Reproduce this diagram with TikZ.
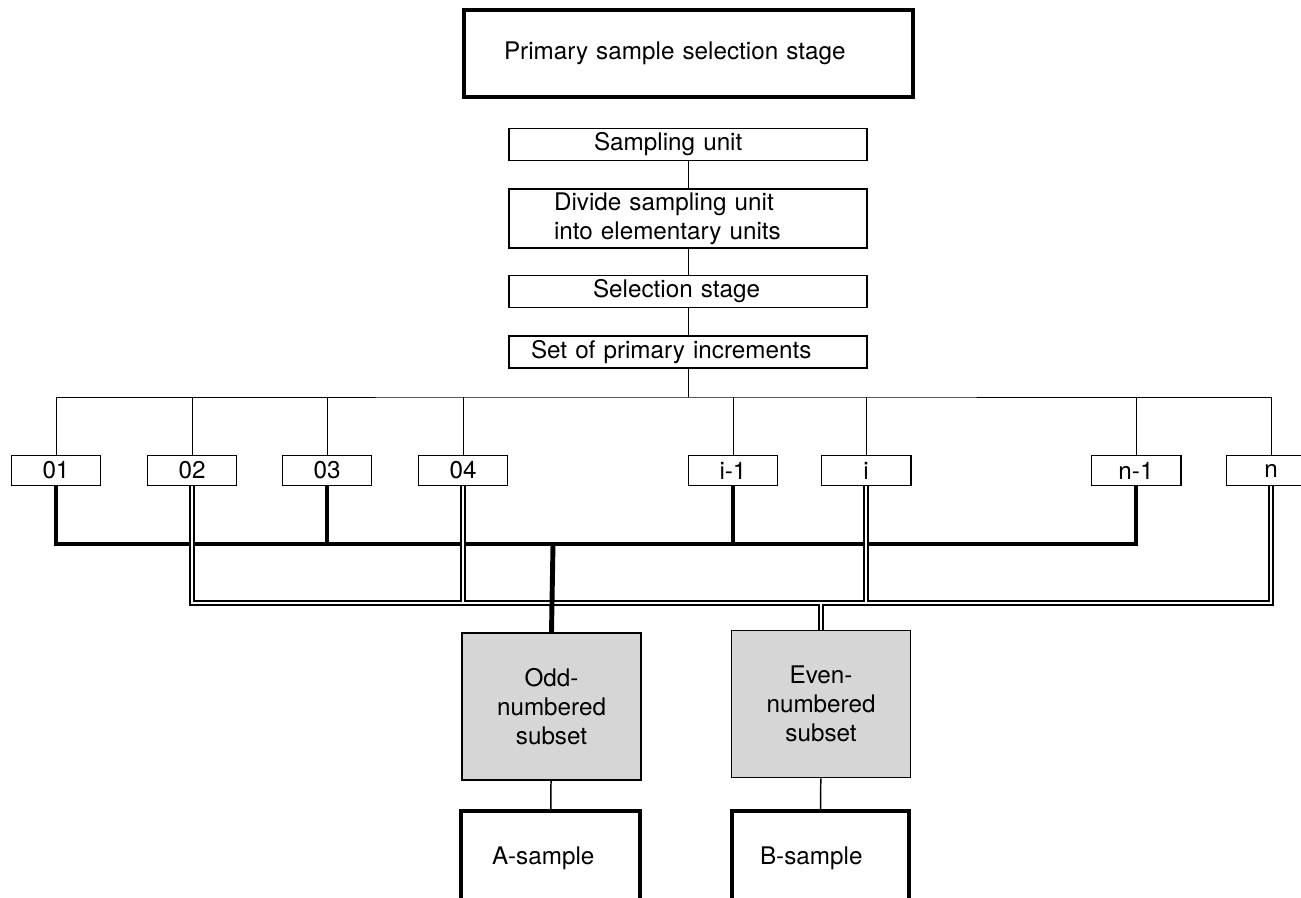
\documentclass[tikz,border=0pt]{standalone}
\usepackage{fontspec}
\setmainfont{TeX Gyre Heros}
\usetikzlibrary{backgrounds}

\begin{document}
\begin{tikzpicture}[x=0.02cm, y=-0.02cm, line width=0.85pt, txt/.style = {font=\fontsize{13.8}{16.6}\selectfont}, stagebox/.style = {shape=rectangle, draw, txt, align=left, inner ysep=0pt, minimum width=7.16cm, minimum height=0.64cm}, heavybox/.style = {shape=rectangle, draw, txt, align=left, line width=2.5pt, inner sep=0pt}, incbox/.style = {shape=rectangle, draw, txt, inner sep=0pt, minimum width=1.79cm, minimum height=0.6cm}, subsetbox/.style = {shape=rectangle, draw, txt, align=center, fill=black!16, inner sep=0pt, minimum width=3.59cm, minimum height=2.95cm}, oddline/.style = {line width=2.8pt}, evenline/.style = {line width=3.4pt}, evengap/.style = {line width=1.6pt, white}]
	\useasboundingbox (0,0) rectangle (1301,898);
	\clip (0,0) rectangle (1301,898);
	\node[heavybox, minimum width=8.98cm, minimum height=1.74cm, text width=7.38cm, inner xsep=0.8cm] (primary) at (688.5,53.5) {Primary sample selection stage};
	\node[stagebox, inner xsep=1.7cm, text width=3.76cm] (sunit) at (688,144.5) {Sampling unit};
	\node[stagebox, inner xsep=0.9cm, text width=5.36cm, minimum height=1.19cm] (divide) at (688,218.5) {Divide sampling unit\\into elementary units};
	\node[stagebox, inner xsep=1.68cm, text width=3.8cm] (selstage) at (688,291.5) {Selection stage};
	\node[stagebox, inner xsep=0.44cm, text width=6.28cm] (incset) at (688,352) {Set of primary increments};
	\foreach \name/\x/\lbl in {i01/56/01, i02/192/02, i03/327/03, i04/463/04, iprev/733/i-1, icur/866/i, nprev/1136/n-1, ncur/1271/n}
		\node[incbox] (\name) at (\x,470.5) {\lbl};
	\node[subsetbox] (odd) at (551.5,706.5) {Odd-\\numbered\\subset};
	\node[subsetbox] (even) at (821,704) {Even-\\numbered\\subset};
	\node[heavybox, minimum width=3.58cm, minimum height=1.88cm, inner xsep=0.62cm, text width=2.34cm] (asample) at (550.5,858) {A-sample};
	\node[heavybox, minimum width=3.54cm, minimum height=1.88cm, inner xsep=0.56cm, text width=2.42cm] (bsample) at (820.5,858) {B-sample};
	\coordinate (bus) at (688,397);
	\coordinate (oddhub) at (553,544);
	\coordinate (evenhub) at (821,603);
	\begin{scope}[on background layer]
		\draw (sunit) -- (divide) -- (selstage) -- (incset) -- (bus);
		\draw (i01.north) |- (bus) -| (ncur.north);
		\foreach \n in {i02,i03,i04,iprev,icur,nprev}
			\draw (\n.north) -- (\n.north |- bus);
		\draw[oddline] (i01.south) |- (oddhub) -| (nprev.south);
		\foreach \n in {i03,iprev}
			\draw[oddline] (\n.south) -- (\n.south |- oddhub);
		\foreach \s in {evenline,evengap} {
			\draw[\s] (i02.south) |- (evenhub) -| (ncur.south);
			\foreach \n in {i04,icur}
				\draw[\s] (\n.south) -- (\n.south |- evenhub);
			\draw[\s] (evenhub) -- (even.north);
		}
		\draw[oddline] (oddhub) -- (odd.north);
	\end{scope}
	\draw (odd) -- (asample);
	\draw (even) -- (bsample);
\end{tikzpicture}
\end{document}
